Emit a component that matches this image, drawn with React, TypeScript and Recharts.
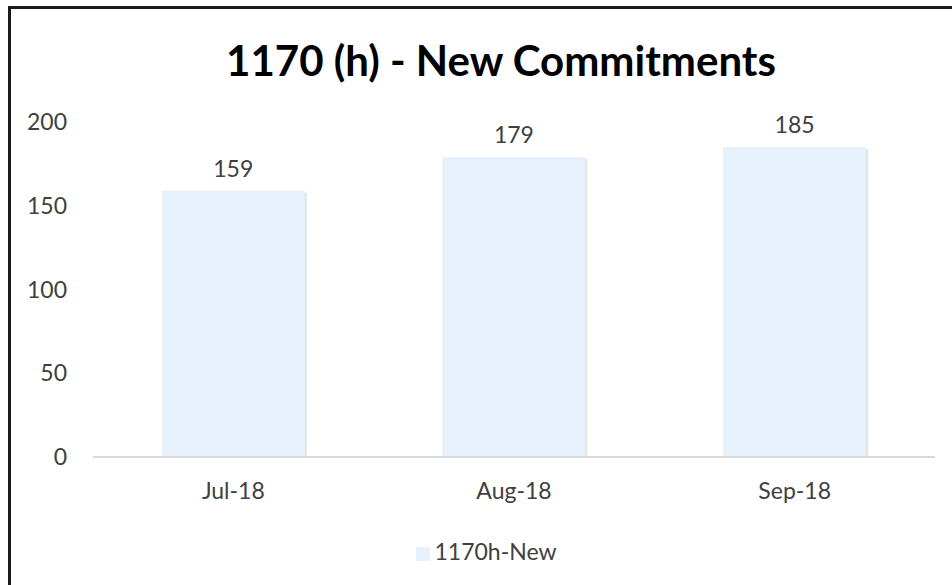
import React from "react";
import { BarChart, Bar, XAxis, YAxis, Legend, LabelList } from "recharts";

const categories = ["Jul-18", "Aug-18", "Sep-18"];
const newValues = [159, 179, 185];
const yTicks = [0, 50, 100, 150, 200];
const seriesName = "1170h-New";
const title = "1170 (h) - New Commitments";

const data = categories.map((c, i) => ({ month: c, value: newValues[i] }));

const FONT = "Lato, 'Open Sans', sans-serif";

const ShadowBar = (props: any) => {
  const { x, y, width, height, fill } = props;
  if (height <= 0) return null;
  return (
    <g>
      <rect x={x + 2} y={y + 2} width={width} height={height - 2} fill="#c8c8c8" opacity={0.5} />
      <rect x={x} y={y} width={width} height={height} fill={fill} />
    </g>
  );
};

export default function App() {
  return (
    <div style={{ position: "absolute", left: 0, top: 0, width: 952, height: 585, background: "#fff", fontFamily: FONT }}>
      <div
        style={{
          position: "absolute",
          left: 8,
          top: 6,
          width: 944,
          height: 579,
          borderTop: "3px solid #1a1a1a",
          borderLeft: "3px solid #1a1a1a",
          boxSizing: "border-box",
        }}
      />
      <div
        style={{
          position: "absolute",
          left: 50,
          top: 34,
          width: 902,
          textAlign: "center",
          fontSize: 42,
          fontWeight: 700,
          color: "#000",
          lineHeight: "52px",
        }}
      >
        {title}
      </div>
      <div style={{ position: "absolute", left: 0, top: 0 }}>
        <BarChart
          width={952}
          height={585}
          data={data}
          margin={{ top: 122, right: 17, left: 0, bottom: 20 }}
          barCategoryGap="24.5%"
        >
          <YAxis
            width={93}
            domain={[0, 200]}
            ticks={yTicks}
            axisLine={false}
            tickLine={false}
            tickSize={0}
            tickMargin={26}
            tick={{ fontSize: 23, fill: "#404040", fontFamily: FONT }}
          />
          <XAxis
            dataKey="month"
            height={80}
            axisLine={{ stroke: "#d9d9d9", strokeWidth: 2 }}
            tickLine={false}
            tickSize={0}
            tickMargin={26}
            tick={{ fontSize: 23, fill: "#404040", fontFamily: FONT }}
          />
          <Legend
            verticalAlign="bottom"
            iconType="square"
            iconSize={14}
            wrapperStyle={{ left: 24, fontSize: 23, fontFamily: FONT, color: "#404040" }}
            formatter={(v: string) => <span style={{ color: "#404040" }}>{v}</span>}
          />
          <Bar
            dataKey="value"
            name={seriesName}
            fill="#e7f1fc"
            isAnimationActive={false}
            shape={ShadowBar}
          >
            <LabelList dataKey="value" position="top" offset={14} style={{ fontSize: 23, fill: "#404040", fontFamily: FONT }} />
          </Bar>
        </BarChart>
      </div>
    </div>
  );
}
